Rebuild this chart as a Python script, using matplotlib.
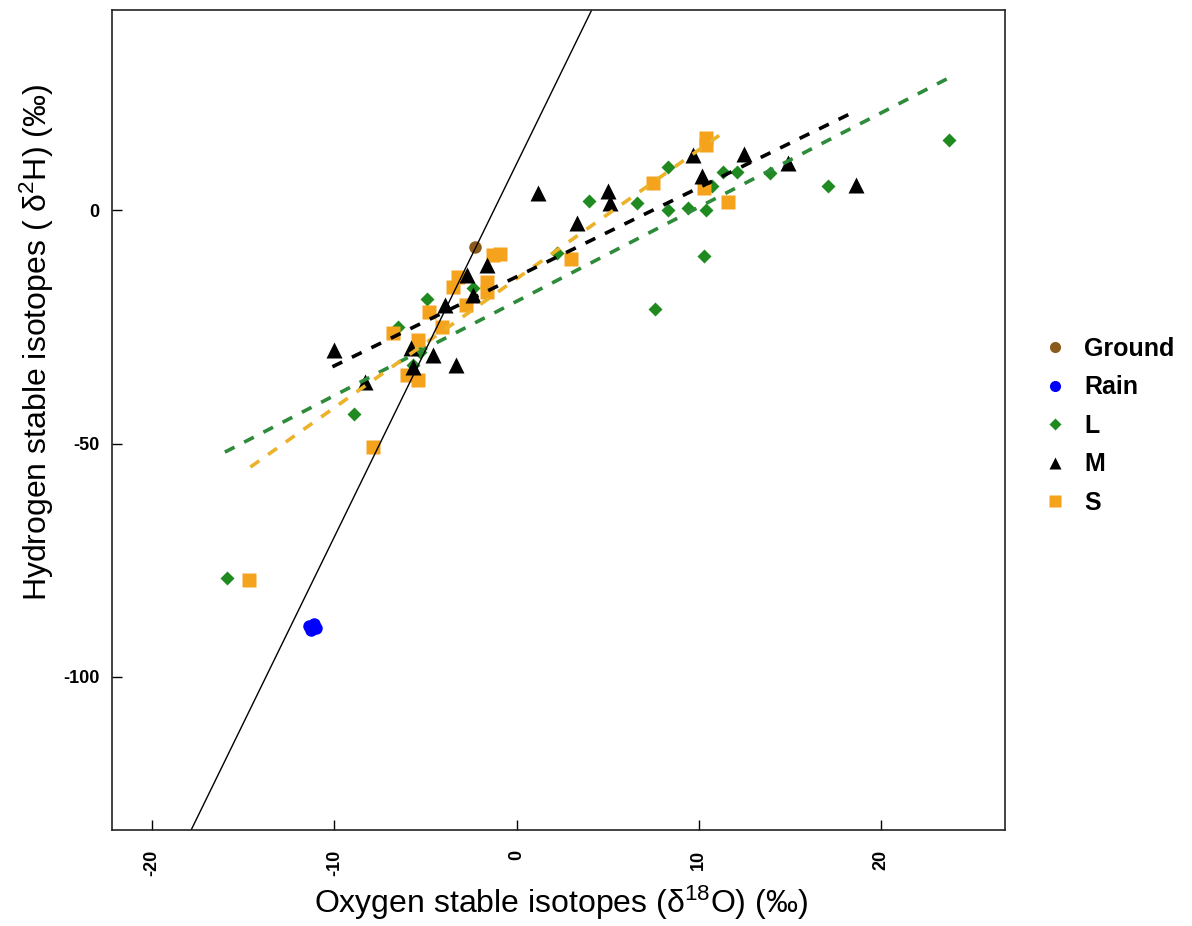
import numpy as np
import matplotlib
matplotlib.use("Agg")
from matplotlib import pyplot as plt
from matplotlib.lines import Line2D

plt.rcParams["font.family"] = ["Liberation Sans", "DejaVu Sans"]
plt.rcParams["mathtext.fontset"] = "custom"
plt.rcParams["mathtext.rm"] = "Liberation Sans"
plt.rcParams["mathtext.it"] = "Liberation Sans"
plt.rcParams["axes.unicode_minus"] = False

# data (d18O, d2H)
ground_x = [-2.3]
ground_y = [-7.8]

rain_x = [-11.4, -11.1, -11.0, -11.3, -11.2]
rain_y = [-89.0, -88.6, -89.6, -90.0, -89.3]

L_x = [-15.9, -8.9, -6.5, -4.9, -2.4, -5.7, -5.3, 4.0, 6.6, 8.3, 8.3, 9.4, 10.4,
       11.3, 12.1, 13.9, 17.1, 23.7, 10.3, 7.6, 2.2, 10.7]
L_y = [-78.8, -43.6, -25.0, -19.0, -16.6, -33.1, -30.4, 2.0, 1.6, 9.3, 0.1, 0.5, 0.1,
       8.3, 8.3, 8.0, 5.3, 15.1, -9.8, -21.1, -9.1, 5.2]

M_x = [1.2, 5.0, 5.1, 3.3, 9.7, 10.2, 12.5, 14.9, 18.6, -1.6, -2.7, -2.4, -3.9,
       -10.0, -4.6, -3.3, -8.3, -5.7, -5.8]
M_y = [3.8, 4.2, 1.6, -2.7, 11.9, 7.4, 12.1, 10.2, 5.5, -11.7, -13.8, -18.1, -20.3,
       -29.9, -31.0, -33.1, -36.8, -33.5, -29.5]

S_x = [-1.3, -1.6, -1.6, -3.2, -3.5, -2.8, -4.8, -4.1, -6.8, -5.4, -6.0, -5.4, -7.9,
       -14.7, 10.4, 10.4, 7.5, 10.3, 11.6, 3.0, -0.9]
S_y = [-9.5, -15.3, -17.5, -14.3, -16.4, -20.3, -21.8, -25.0, -26.3, -27.8, -35.3, -36.3, -50.7,
       -79.2, 15.5, 14.0, 5.9, 4.8, 1.8, -10.4, -9.3]

# fitted lines (end points)
L_fit_x = [-16.0, 23.8]
L_fit_y = [-51.8, 28.6]
M_fit_x = [-10.1, 18.7]
M_fit_y = [-33.5, 21.5]
S_fit_x = [-14.6, 11.3]
S_fit_y = [-55.0, 16.6]

# global meteoric water line
gmwl_slope = 8
gmwl_intercept = 10

x_ticks = [-20, -10, 0, 10, 20]
y_ticks = [0, -50, -100]

green = "#1f8a1f"
orange = "#f5a31c"
brown = "#8b5a1b"

fig = plt.figure(figsize=(11.92, 9.26), dpi=100)
ax = fig.add_axes([0.094, 0.1037, 0.7492, 0.8855])

ax.plot(ground_x, ground_y, "o", color=brown, ms=9, mec="none", label="Ground")
ax.plot(rain_x, rain_y, "o", color="#0000ff", ms=9, mec="none", label="Rain")
ax.plot(L_x, L_y, "D", color=green, ms=7.5, mec="none", label="L")
ax.plot(S_x, S_y, "s", color=orange, ms=10, mec="none", label="S")
ax.plot(M_x, M_y, "^", color="black", ms=11, mec="none", label="M")

ax.plot(L_fit_x, L_fit_y, "--", color="#2e8b3a", lw=2.6, dashes=(3, 3))
ax.plot(S_fit_x, S_fit_y, "--", color="#ebb22a", lw=2.6, dashes=(3, 3))
ax.plot(M_fit_x, M_fit_y, "--", color="black", lw=2.6, dashes=(3, 3))

ax.axline((0, gmwl_intercept), slope=gmwl_slope, color="black", lw=1)

ax.set_xlim(-22.19, 26.8)
ax.set_ylim(-132.8, 42.98)
ax.set_xticks(x_ticks)
ax.set_yticks(y_ticks)
ax.tick_params(direction="in", length=7, width=1, labelsize=13)
ax.tick_params(axis="x", pad=14, labelrotation=90)
ax.tick_params(axis="y", pad=9)
for lab in ax.get_xticklabels() + ax.get_yticklabels():
    lab.set_fontweight("bold")
for sp in ax.spines.values():
    sp.set_linewidth(1.2)
    sp.set_color("#222222")

ax.set_xlabel("Oxygen stable isotopes (δ$^{18}$O) (‰)", fontsize=23)
ax.set_ylabel("Hydrogen stable isotopes ( δ$^{2}$H) (‰)", fontsize=23)
ax.xaxis.set_label_coords(0.503, -0.066)
ax.yaxis.set_label_coords(-0.063, 0.595)

handles = [
    Line2D([], [], ls="none", marker="o", color=brown, ms=8, mec="none"),
    Line2D([], [], ls="none", marker="o", color="#0000ff", ms=8, mec="none"),
    Line2D([], [], ls="none", marker="D", color=green, ms=6.5, mec="none"),
    Line2D([], [], ls="none", marker="^", color="black", ms=9, mec="none"),
    Line2D([], [], ls="none", marker="s", color=orange, ms=8, mec="none"),
]
names = ["Ground", "Rain", "L", "M", "S"]
fig.legend(handles, names, loc="center left", bbox_to_anchor=(0.8645, 0.54),
           frameon=False, prop={"weight": "bold", "size": 18}, borderpad=0,
           handlelength=1.0, handletextpad=0.66, labelspacing=0.58)

fig.savefig("out.png", dpi=100)
